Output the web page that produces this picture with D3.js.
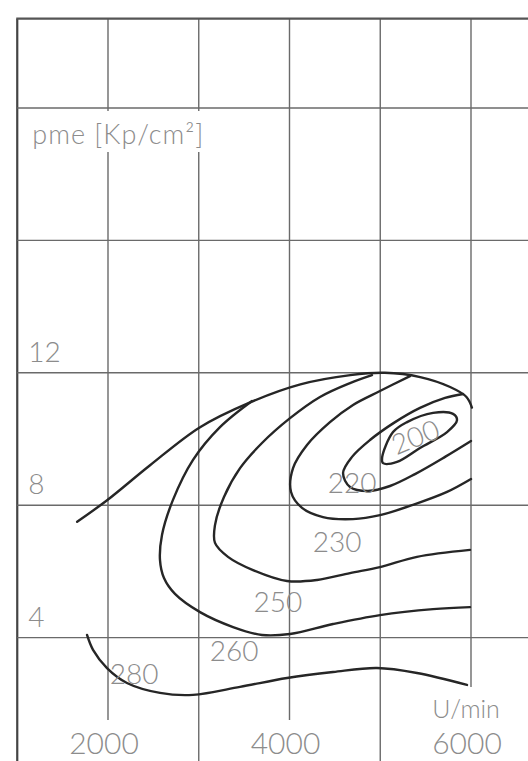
<!DOCTYPE html>
<html>
<head>
<meta charset="utf-8">
<script src="https://cdn.jsdelivr.net/npm/d3@7"></script>
<style>
  body { margin: 0; background: #fff; }
  svg text { font-family: Lato, "Open Sans", sans-serif; font-weight: 300; fill: #8c8c8c; }
</style>
</head>
<body>
<div id="chart"></div>
<script>

// grid + ticks
var gridRpm = [1000, 2000, 3000, 4000, 5000, 6000, 7000];
var gridPme = [4, 8, 12, 16, 20];
var tickRpm = [2000, 4000, 6000];
var tickPme = [4, 8, 12];

// full load line (no label)
var fullRpm = [1660, 1990, 2460, 3010, 3560, 4120, 4670, 5050, 5440, 5770, 5950, 6010];
var fullPme = [7.5, 8.15, 9.2, 10.35, 11.1, 11.65, 11.93, 12.0, 11.87, 11.57, 11.27, 10.95];

// specific consumption contours
var levels = [200, 220, 230, 250, 260, 280];

var rpm200 = [5020, 5141, 5295, 5582, 5802, 5846, 5736, 5438, 5185, 5031];
var pme200 = [9.43, 10.21, 10.51, 10.79, 10.76, 10.57, 10.21, 9.73, 9.31, 9.27];

var rpm220 = [5912, 5714, 5438, 5163, 4887, 4689, 4590, 4667, 4865, 5108, 5383, 5714, 6000];
var pme220 = [11.36, 11.24, 10.94, 10.51, 9.97, 9.46, 8.97, 8.55, 8.43, 8.58, 8.94, 9.46, 9.94];

var rpm230 = [5328, 4997, 4700, 4446, 4193, 4039, 4017, 4138, 4369, 4700, 4997, 5361, 5736, 6000];
var pme230 = [11.9, 11.45, 11.03, 10.51, 9.82, 9.12, 8.4, 7.92, 7.64, 7.58, 7.7, 8.01, 8.4, 8.79];

var rpm250 = [4909, 4667, 4336, 4006, 3697, 3455, 3278, 3179, 3179, 3322, 3598, 3973, 4303, 4667, 4997, 5405, 5989];
var pme250 = [11.93, 11.69, 11.27, 10.63, 9.88, 9.12, 8.25, 7.4, 6.86, 6.44, 6.04, 5.71, 5.74, 5.95, 6.13, 6.44, 6.65];

var rpm260 = [3587, 3234, 2937, 2716, 2595, 2573, 2617, 2738, 3014, 3378, 3697, 4006, 4480, 4997, 5582, 5989];
var pme260 = [11.15, 10.36, 9.37, 8.16, 7.1, 6.34, 5.8, 5.32, 4.77, 4.32, 4.08, 4.11, 4.41, 4.68, 4.86, 4.92];

var rpm280 = [1769, 1835, 1989, 2209, 2573, 2937, 3455, 3973, 4480, 4964, 5405, 5956];
var pme280 = [4.08, 3.63, 3.08, 2.63, 2.33, 2.27, 2.51, 2.78, 2.96, 3.08, 2.93, 2.57];

// where each level number sits
var labelRpm = [5383, 4689, 4524, 3873, 3389, 2287];
var labelPme = [10.09, 8.7, 6.92, 5.11, 3.63, 2.93];
var labelTilt = [-22, 0, 0, 0, 0, 0];

var yLabel = "pme [Kp/cm²]";
var xLabel = "U/min";


function ContourChart(){
    var self = this;

    self.width = 528;
    self.height = 761;
    self.pmeTop = 22.7;

    self.init();
    self.draw();
}

ContourChart.prototype.init = function(){
    var self = this;

    self.x = d3.scaleLinear()
	.domain([2000, 6000])
	.range([108, 471]);

    self.y = d3.scaleLinear()
	.domain([0, 20])
	.range([770, 108]);

    self.svg = d3.select("#chart").append("svg")
	.attr("width", self.width)
	.attr("height", self.height);

    self.gridG = self.svg.append("g").attr("class", "grid");
    self.maskG = self.svg.append("g").attr("class", "masks");
    self.lineG = self.svg.append("g").attr("class", "contours");
    self.textG = self.svg.append("g").attr("class", "labels");
}

ContourChart.prototype.draw = function(){
    var self = this;
    var x = self.x, y = self.y;
    var left = x(gridRpm[0]), top = y(self.pmeTop);

    // grid
    self.gridG.selectAll(".vline")
	.data(gridRpm)
	.enter().append("line")
	.attr("class", "vline")
	.attr("x1", function(d){ return x(d); })
	.attr("x2", function(d){ return x(d); })
	.attr("y1", top)
	.attr("y2", self.height)
	.attr("stroke", function(d, i){ return i == 0 ? "#444" : "#6a6a6a"; })
	.attr("stroke-width", function(d, i){ return i == 0 ? 2.2 : 1.4; });

    self.gridG.selectAll(".hline")
	.data(gridPme)
	.enter().append("line")
	.attr("class", "hline")
	.attr("x1", left)
	.attr("x2", self.width)
	.attr("y1", function(d){ return y(d); })
	.attr("y2", function(d){ return y(d); })
	.attr("stroke", "#6a6a6a")
	.attr("stroke-width", 1.4);

    self.gridG.append("line")
	.attr("x1", left - 1)
	.attr("x2", self.width)
	.attr("y1", top)
	.attr("y2", top)
	.attr("stroke", "#555")
	.attr("stroke-width", 2.2);

    // contours
    var line = d3.line()
	.x(function(d){ return x(d[0]); })
	.y(function(d){ return y(d[1]); })
	.curve(d3.curveCatmullRom.alpha(0.5));

    var closed = d3.line()
	.x(function(d){ return x(d[0]); })
	.y(function(d){ return y(d[1]); })
	.curve(d3.curveCatmullRomClosed.alpha(0.5));

    var zip = function(a, b){ return a.map(function(v, i){ return [v, b[i]]; }); };

    var curves = [
	{path: line, pts: zip(fullRpm, fullPme)},
	{path: closed, pts: zip(rpm200, pme200)},
	{path: line, pts: zip(rpm220, pme220)},
	{path: line, pts: zip(rpm230, pme230)},
	{path: line, pts: zip(rpm250, pme250)},
	{path: line, pts: zip(rpm260, pme260)},
	{path: line, pts: zip(rpm280, pme280)}
    ];

    self.lineG.selectAll("path")
	.data(curves)
	.enter().append("path")
	.attr("d", function(d){ return d.path(d.pts); })
	.attr("fill", "none")
	.attr("stroke", "#262626")
	.attr("stroke-width", 2.4)
	.attr("stroke-linejoin", "round")
	.attr("stroke-linecap", "round");

    // level numbers
    self.textG.selectAll(".level")
	.data(levels)
	.enter().append("text")
	.attr("class", "level")
	.attr("text-anchor", "middle")
	.attr("dominant-baseline", "central")
	.attr("font-size", 28)
	.attr("transform", function(d, i){
	    return "translate(" + x(labelRpm[i]) + "," + y(labelPme[i]) + ") rotate(" + labelTilt[i] + ")";
	})
	.text(function(d){ return d; });

    // y tick numbers
    self.textG.selectAll(".ytick")
	.data(tickPme)
	.enter().append("text")
	.attr("class", "ytick")
	.attr("x", left + 11)
	.attr("y", function(d){ return y(d) - 11; })
	.attr("font-size", 28)
	.text(function(d){ return d; });

    // x tick numbers, with a white patch that cuts the grid line
    var xt = self.textG.selectAll(".xtick")
	.data(tickRpm)
	.enter().append("text")
	.attr("class", "xtick")
	.attr("x", function(d){ return x(d) - 4; })
	.attr("y", 754)
	.attr("text-anchor", "middle")
	.attr("font-size", 30)
	.text(function(d){ return d; });

    var unit = self.textG.append("text")
	.attr("x", x(6000) - 5)
	.attr("y", 718)
	.attr("text-anchor", "middle")
	.attr("font-size", 25)
	.text(xLabel);

    var title = self.textG.append("text")
	.attr("x", left + 15)
	.attr("y", 144)
	.attr("font-size", 27)
	.attr("letter-spacing", 1)
	.text(yLabel);

    var patch = function(node, padT, padB){
	var b = node.getBBox();
	self.maskG.append("rect")
	    .attr("x", b.x - 4)
	    .attr("y", b.y - padT)
	    .attr("width", b.width + 8)
	    .attr("height", b.height + padT + padB)
	    .attr("fill", "#fff");
    };

    xt.each(function(){ patch(this, 4, 2); });
    patch(unit.node(), 6, 0);
    patch(title.node(), 6, 2);
}

var chart = new ContourChart();

</script>
</body>
</html>
